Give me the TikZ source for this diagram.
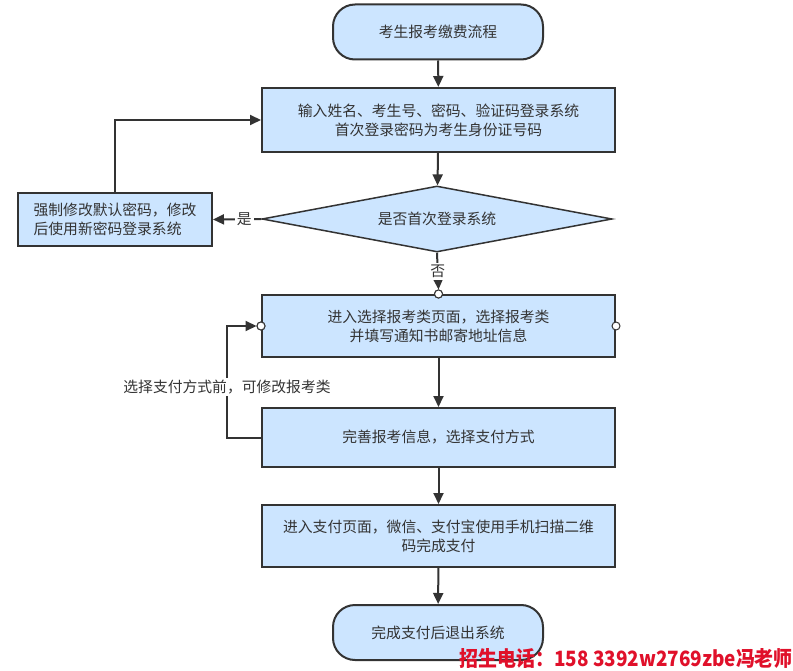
\documentclass[tikz,border=0pt]{standalone}
\usepackage{fontspec}
\usepackage{graphicx}
\setmainfont{Noto Sans CJK SC}
\usetikzlibrary{shapes.geometric,arrows.meta}
\definecolor{boxfill}{HTML}{CCE5FF}
\definecolor{edge}{HTML}{333333}
\definecolor{txt}{HTML}{333333}
\definecolor{wm}{HTML}{E0102A}
\begin{document}
\begin{tikzpicture}[x=1pt,y=-1pt,
 every node/.style={font=\fontsize{14.8}{19}\selectfont, text=txt},
 box/.style={draw=edge, line width=2pt, fill=boxfill, rectangle, minimum width=353pt, minimum height=62pt, align=center, inner sep=0pt},
 term/.style={draw=edge, line width=2pt, fill=boxfill, rounded corners=22pt, minimum width=210pt, minimum height=55pt},
 dec/.style={draw=edge, line width=1.5pt, fill=boxfill, diamond, aspect=5.3, minimum width=350pt, minimum height=66pt, inner sep=0pt},
 arr/.style={draw=edge, line width=2pt, -{Triangle[length=11pt,width=10pt]}},
 port/.style={circle, draw=edge, fill=white, line width=1pt, minimum size=8pt, inner sep=0pt},
 lbl/.style={fill=white, inner sep=2pt}
]
\useasboundingbox[fill=white] (0,0) rectangle (793,671);
\node[term] (start) at (438,32) {考生报考缴费流程};
\node[box, minimum height=64pt] (login) at (438.5,120) {输入姓名、考生号、密码、验证码登录系统\\首次登录密码为考生身份证号码};
\node[dec] (first) at (437,219) {是否首次登录系统};
\node[draw=edge, line width=2pt, fill=boxfill, minimum width=194pt, minimum height=53pt, align=left, inner sep=0pt] (chg) at (115,219.5) {强制修改默认密码，修改\\后使用新密码登录系统};
\node[box] (sel) at (438.5,326) {进入选择报考类页面，选择报考类\\并填写通知书邮寄地址信息};
\node[box, minimum height=59pt] (fill) at (438.5,437.5) {完善报考信息，选择支付方式};
\node[box] (pay) at (438.5,536) {进入支付页面，微信、支付宝使用手机扫描二维\\码完成支付};
\node[term] (end) at (438,632.5) {完成支付后退出系统};
\node[port] (p1) at (sel.north) {};
\node[port] (p2) at (sel.west) {};
\node[port] (p3) at (sel.east) {};
\coordinate (lp) at (227,437.5);
\draw[arr] (start) -- (login);
\draw[arr] (login) -- (first);
\draw[arr] (first.west) -- node[lbl, pos=0.35] {是} (chg.east);
\draw[arr] (chg.north) |- (login.west);
\draw[arr] (first.south) -- node[lbl] {否} (p1.north);
\draw[arr] (fill.west) -- (lp) |- (p2.west);
\node[lbl] (note) at (227,387) {选择支付方式前，可修改报考类};
\draw[arr] (sel) -- (fill);
\draw[arr] (fill) -- (pay);
\draw[arr] (pay) -- (end);
\node[port] at (sel.north) {};
\node[port] at (sel.west) {};
\node[anchor=south east, inner sep=0pt, text=wm] (wmk) at (793,669) {\resizebox{333pt}{18pt}{\bfseries 招生电话：158 3392w2769zbe冯老师}};
\end{tikzpicture}
\end{document}
